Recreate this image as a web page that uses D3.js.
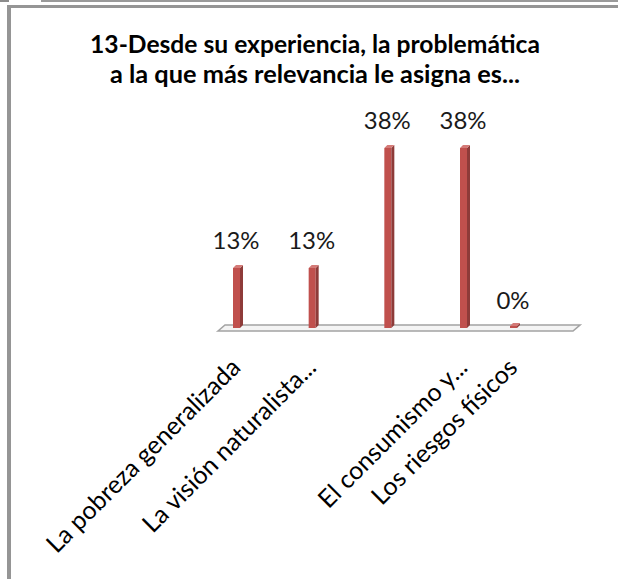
<!DOCTYPE html>
<html><head><meta charset="utf-8">
<script src="https://cdn.jsdelivr.net/npm/d3@7"></script>
<style>html,body{margin:0;padding:0;background:#fff;} svg{display:block}</style>
</head><body>
<svg id="chart" width="618" height="579"></svg>
<script>
// ---- data ----
const categories = ["La pobreza generalizada", "La visión naturalista...", "", "El consumismo y...", "Los riesgos físicos"];
const values = [0.125, 0.125, 0.375, 0.375, 0];
const titleLines = ["13-Desde su experiencia, la problemática", "a la que más relevancia le asigna es..."];

// ---- layout ----
const W = 618, H = 579;
const FONT = "Lato, 'Open Sans', 'DejaVu Sans', sans-serif";
const svg = d3.select("#chart");
svg.append("rect").attr("width", W).attr("height", H).attr("fill", "#fff");

// outer frame (partial borders visible in the reference)
svg.append("rect").attr("x", 0).attr("y", 0).attr("width", 9).attr("height", 2).attr("fill", "#8c8c8c");
svg.append("rect").attr("x", 41).attr("y", 0).attr("width", W - 41).attr("height", 2).attr("fill", "#9a9a9a");
svg.append("rect").attr("x", 8).attr("y", 5).attr("width", W - 8).attr("height", 3).attr("fill", "#959595");
svg.append("rect").attr("x", 7).attr("y", 5).attr("width", 4).attr("height", H - 5).attr("fill", "#959595");

function fit(sel, target) {
  const w = sel.node().getComputedTextLength();
  const fs = parseFloat(sel.attr("font-size"));
  sel.attr("font-size", (fs * target / w).toFixed(2));
}

// title
const titleTargets = [450, 410];
const titleY = [53, 83];
titleLines.forEach((t, i) => {
  const s = svg.append("text").attr("x", 315).attr("y", titleY[i])
    .attr("text-anchor", "middle").attr("font-family", FONT).attr("font-weight", "bold")
    .attr("font-size", 24).attr("fill", "#000").text(t);
  fit(s, titleTargets[i]);
});

// scales (3D perspective compresses the depth of the last category)
const idx = d3.range(categories.length);
const x = d3.scaleLinear().domain([0, 3, 4]).range([238, 465, 515]);
const y = d3.scaleLinear().domain([0, 0.4]).range([328, 136]);

// floor
const floorG = svg.append("g");
const fL = 218, fR = 573, fD = 7, fTop = 325, fBot = 331;
floorG.append("polygon")
  .attr("points", [[fL, fBot], [fL + fD, fTop], [fR + fD, fTop], [fR, fBot]].map(p => p.join(",")).join(" "))
  .attr("fill", "#f4f4f4").attr("stroke", "#a3a3a3").attr("stroke-width", 1.6);

// bars (thin 3D columns)
const fmt = d3.format(".0%");
const bw = 7, dep = 3;
const bars = svg.append("g");
idx.forEach(i => {
  const cx = x(i);
  const base = y(0);
  let top = y(values[i]);
  if (base - top < 2) top = base - 2;
  const l = cx - 5, r = l + bw;
  bars.append("rect").attr("x", l).attr("y", top).attr("width", bw).attr("height", base - top).attr("fill", "#C0504D");
  bars.append("polygon")
    .attr("points", [[r, top], [r + dep, top - dep], [r + dep, base - dep], [r, base]].map(p => p.join(",")).join(" "))
    .attr("fill", "#8E3B39");
  bars.append("polygon")
    .attr("points", [[l, top], [l + dep, top - dep], [r + dep, top - dep], [r, top]].map(p => p.join(",")).join(" "))
    .attr("fill", "#D47A77");
});

// data labels
const dl = svg.append("g");
let dlSize = null;
idx.forEach(i => {
  const s = dl.append("text").attr("x", x(i) - 2).attr("y", y(values[i]) - 19)
    .attr("text-anchor", "middle").attr("font-family", FONT).attr("font-size", 24)
    .attr("fill", "#1a1a1a").text(fmt(values[i]));
  if (dlSize === null) { fit(s, 47); dlSize = s.attr("font-size"); }
  s.attr("font-size", dlSize);
});

// category labels, rotated -45°
const cl = svg.append("g");
let clSize = null;
idx.forEach(i => {
  const s = cl.append("text")
    .attr("transform", `translate(${x(i) + 4},369) rotate(-45)`)
    .attr("text-anchor", "end").attr("font-family", FONT).attr("font-size", 24)
    .attr("fill", "#000").text(categories[i]);
  if (clSize === null) { fit(s, 262); clSize = s.attr("font-size"); }
  s.attr("font-size", clSize);
});
</script>
</body></html>
